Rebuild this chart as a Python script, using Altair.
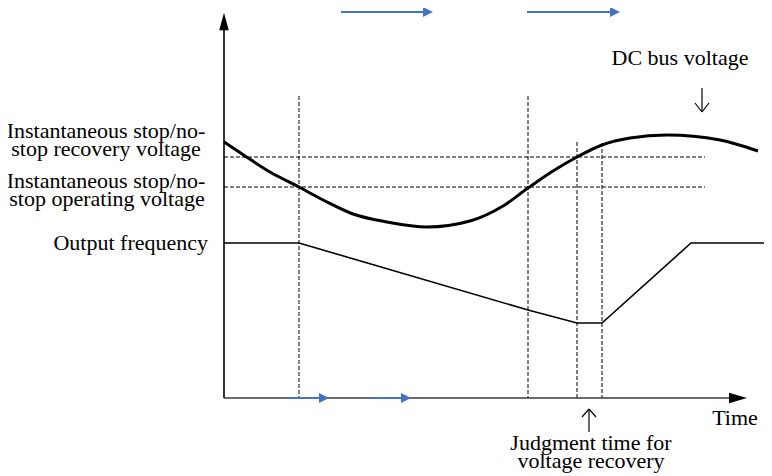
import altair as alt
import pandas as pd

# ---- data (diagram units: time → right, level → down) ----
bus_time = [224, 245, 270, 299, 325, 353, 387, 427, 470, 503, 528, 553, 577, 602, 630, 667, 720, 758]
bus_level = [142, 156, 172, 187, 201, 214, 222, 227, 221, 206, 188, 171, 157, 145, 138, 135, 140, 151]

freq_time = [224, 299, 528, 577, 602, 691, 764]
freq_level = [243, 243, 310, 323, 323, 243, 243]

threshold_names = ["recovery", "operating"]
threshold_level = [157, 187]
threshold_start = [224, 224]
threshold_end = [705, 705]

event_time = [299, 528, 577, 602]
event_top = [96, 96, 142, 143]
axis_y_level = 398
axis_x_time = 224

# blue direction arrows: start, head base, tip, level
blue_start = [341, 527, 288, 370]
blue_base = [423, 610, 319, 401]
blue_tip = [433, 620, 329, 411]
blue_level = [12, 12, 398, 398]

# text labels (alphabetic baselines)
label_text = ["Instantaneous stop/no-", "stop recovery voltage",
              "Instantaneous stop/no-", "stop operating voltage",
              "Output frequency", "DC bus voltage", "Time",
              "Judgment time for", "voltage recovery"]
label_x = [106, 106, 106, 107, 208, 680, 735, 591, 591]
label_y = [138, 156, 188, 206, 250, 65, 425, 450, 468]
label_align = ["center", "center", "center", "center", "right", "center", "center", "center", "center"]

# thin pointer arrows (segments)
ptr_x = [702, 695, 709, 589, 582, 596]
ptr_x2 = [702, 702, 702, 589, 589, 589]
ptr_y = [88, 103, 103, 432, 417, 417]
ptr_y2 = [112, 112, 112, 409, 409, 409]

BLUE = "#4472C4"
FONT = "Liberation Serif, Times New Roman, serif"

xs = alt.Scale(domain=[8, 764], nice=False, zero=False)
ys = alt.Scale(domain=[8, 476], nice=False, zero=False, reverse=True)


def X(f):
    return alt.X(f, type="quantitative", scale=xs, axis=None)


def Y(f):
    return alt.Y(f, type="quantitative", scale=ys, axis=None)


# axes
axes_df = pd.DataFrame({
    "x": [axis_x_time, axis_x_time],
    "x2": [axis_x_time, 729],
    "y": [axis_y_level, axis_y_level],
    "y2": [30, axis_y_level],
    "c": ["y", "x"],
})
axes = alt.Chart(axes_df).mark_rule(strokeWidth=1.6).encode(
    x=X("x"), x2="x2", y=Y("y"), y2="y2",
    color=alt.Color("c:N", scale=alt.Scale(domain=["y", "x"], range=["#000000", "#3a3a3a"]), legend=None),
)

heads_df = pd.DataFrame({"x": [224, 738], "y": [21.5, axis_y_level], "k": ["up", "right"]})
head_up = alt.Chart(heads_df[heads_df["k"] == "up"]).mark_point(
    shape="M0,-1L0.55,1L-0.55,1Z", filled=True, color="black", opacity=1, size=300, strokeWidth=0
).encode(x=X("x"), y=Y("y"))
head_right = alt.Chart(heads_df[heads_df["k"] == "right"]).mark_point(
    shape="M-1,-0.58L1,0L-1,0.58Z", filled=True, color="black", opacity=1, size=324, strokeWidth=0
).encode(x=X("x"), y=Y("y"))

# dashed threshold & event lines
thr_df = pd.DataFrame({"name": threshold_names, "y": threshold_level,
                       "x": threshold_start, "x2": threshold_end})
thr = alt.Chart(thr_df).mark_rule(strokeDash=[4, 2], strokeWidth=1, color="black").encode(
    x=X("x"), x2="x2", y=Y("y"))

ev_df = pd.DataFrame({"x": event_time, "y": event_top, "y2": [axis_y_level] * 4})
ev = alt.Chart(ev_df).mark_rule(strokeDash=[4, 2], strokeWidth=1, color="black").encode(
    x=X("x"), y=Y("y"), y2="y2")

# DC bus voltage curve
bus_df = pd.DataFrame({"t": bus_time, "v": bus_level})
bus = alt.Chart(bus_df).mark_line(color="black", strokeWidth=3, interpolate="monotone").encode(
    x=X("t"), y=Y("v"), order="t:Q")

# output frequency
freq_df = pd.DataFrame({"t": freq_time, "v": freq_level, "o": list(range(len(freq_time)))})
freq = alt.Chart(freq_df).mark_line(color="black", strokeWidth=1.6).encode(
    x=X("t"), y=Y("v"), order="o:Q")

# blue arrows
blue_df = pd.DataFrame({"x": blue_start, "x2": blue_base, "y": blue_level,
                        "hx": [(b + t) / 2 for b, t in zip(blue_base, blue_tip)]})
blue_lines = alt.Chart(blue_df).mark_rule(color=BLUE, strokeWidth=2).encode(
    x=X("x"), x2="x2", y=Y("y"))
blue_heads = alt.Chart(blue_df).mark_point(
    shape="M-1,-1L1,0L-1,1Z", filled=True, color=BLUE, opacity=1, size=100, strokeWidth=0
).encode(x=X("hx"), y=Y("y"))

# thin pointer arrows
ptr_df = pd.DataFrame({"x": ptr_x, "x2": ptr_x2, "y": ptr_y, "y2": ptr_y2})
ptr = alt.Chart(ptr_df).mark_rule(color="black", strokeWidth=1.2).encode(
    x=X("x"), x2="x2", y=Y("y"), y2="y2")

# labels
lab_df = pd.DataFrame({"text": label_text, "x": label_x, "y": label_y, "al": label_align})
texts = []
for al in ["center", "right"]:
    sub = lab_df[lab_df["al"] == al]
    texts.append(alt.Chart(sub).mark_text(
        align=al, baseline="alphabetic", font=FONT, fontSize=22, color="black"
    ).encode(x=X("x"), y=Y("y"), text="text:N"))

chart = alt.layer(
    thr, ev, axes, head_up, head_right, freq, bus, blue_lines, blue_heads, ptr, *texts
).properties(
    width=756, height=468, padding=0, autosize=alt.AutoSizeParams(type="none")
).configure_view(stroke=None)

chart.save("out.html", embed_options={"renderer": "svg", "actions": False})
